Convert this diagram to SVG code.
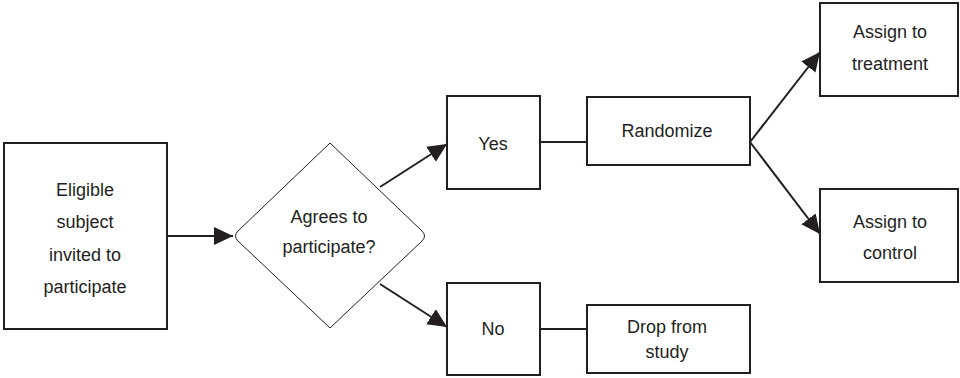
<svg xmlns="http://www.w3.org/2000/svg" width="960" height="378" viewBox="0 0 960 378">
<style>
.box{fill:#fff;stroke:#231f20;stroke-width:2}
.dia{fill:#fff;stroke:#231f20;stroke-width:1}
.ln{fill:none;stroke:#231f20;stroke-width:2}
text{font-family:"Liberation Sans",Arial,sans-serif;font-size:18px;fill:#231f20;text-anchor:middle}
</style>
<defs>
<marker id="ah" markerUnits="userSpaceOnUse" markerWidth="22" markerHeight="20" refX="19" refY="9" orient="auto">
<path d="M0,0 L19,9 L0,18 z" fill="#231f20"/>
</marker>
</defs>
<rect width="960" height="378" fill="#fff"/>
<g id="connectors">
<line class="ln" x1="167" y1="236" x2="233" y2="236" marker-end="url(#ah)"/>
<line class="ln" x1="380" y1="187" x2="447" y2="144" marker-end="url(#ah)"/>
<line class="ln" x1="380" y1="284" x2="447" y2="327" marker-end="url(#ah)"/>
<line class="ln" x1="540" y1="142" x2="587" y2="142"/>
<line class="ln" x1="540" y1="329" x2="587" y2="329"/>
<line class="ln" x1="750" y1="142" x2="820" y2="52" marker-end="url(#ah)"/>
<line class="ln" x1="750" y1="142" x2="820" y2="234" marker-end="url(#ah)"/>
</g>
<g id="eligible">
<rect class="box" x="4" y="143" width="163" height="186"/>
<text x="85" y="196">Eligible</text>
<text x="85" y="228">subject</text>
<text x="85" y="261">invited to</text>
<text x="85" y="293">participate</text>
</g>
<g id="agrees">
<path class="dia" d="M330,143 L422,231 Q427,236 422,241 L330,328 L238,241 Q233,236 238,231 Z"/>
<text x="329" y="223">Agrees to</text>
<text x="329" y="253">participate?</text>
</g>
<g id="yes">
<rect class="box" x="447" y="96" width="93" height="93"/>
<text x="493" y="150">Yes</text>
</g>
<g id="no">
<rect class="box" x="447" y="283" width="93" height="92"/>
<text x="493" y="335">No</text>
</g>
<g id="randomize">
<rect class="box" x="587" y="97" width="163" height="68"/>
<text x="667" y="137">Randomize</text>
</g>
<g id="drop">
<rect class="box" x="587" y="305" width="163" height="68"/>
<text x="667" y="333">Drop from</text>
<text x="667" y="358">study</text>
</g>
<g id="treatment">
<rect class="box" x="820" y="3" width="138" height="93"/>
<text x="890" y="38">Assign to</text>
<text x="890" y="70">treatment</text>
</g>
<g id="control">
<rect class="box" x="820" y="189" width="138" height="93"/>
<text x="890" y="228">Assign to</text>
<text x="890" y="259">control</text>
</g>
</svg>
